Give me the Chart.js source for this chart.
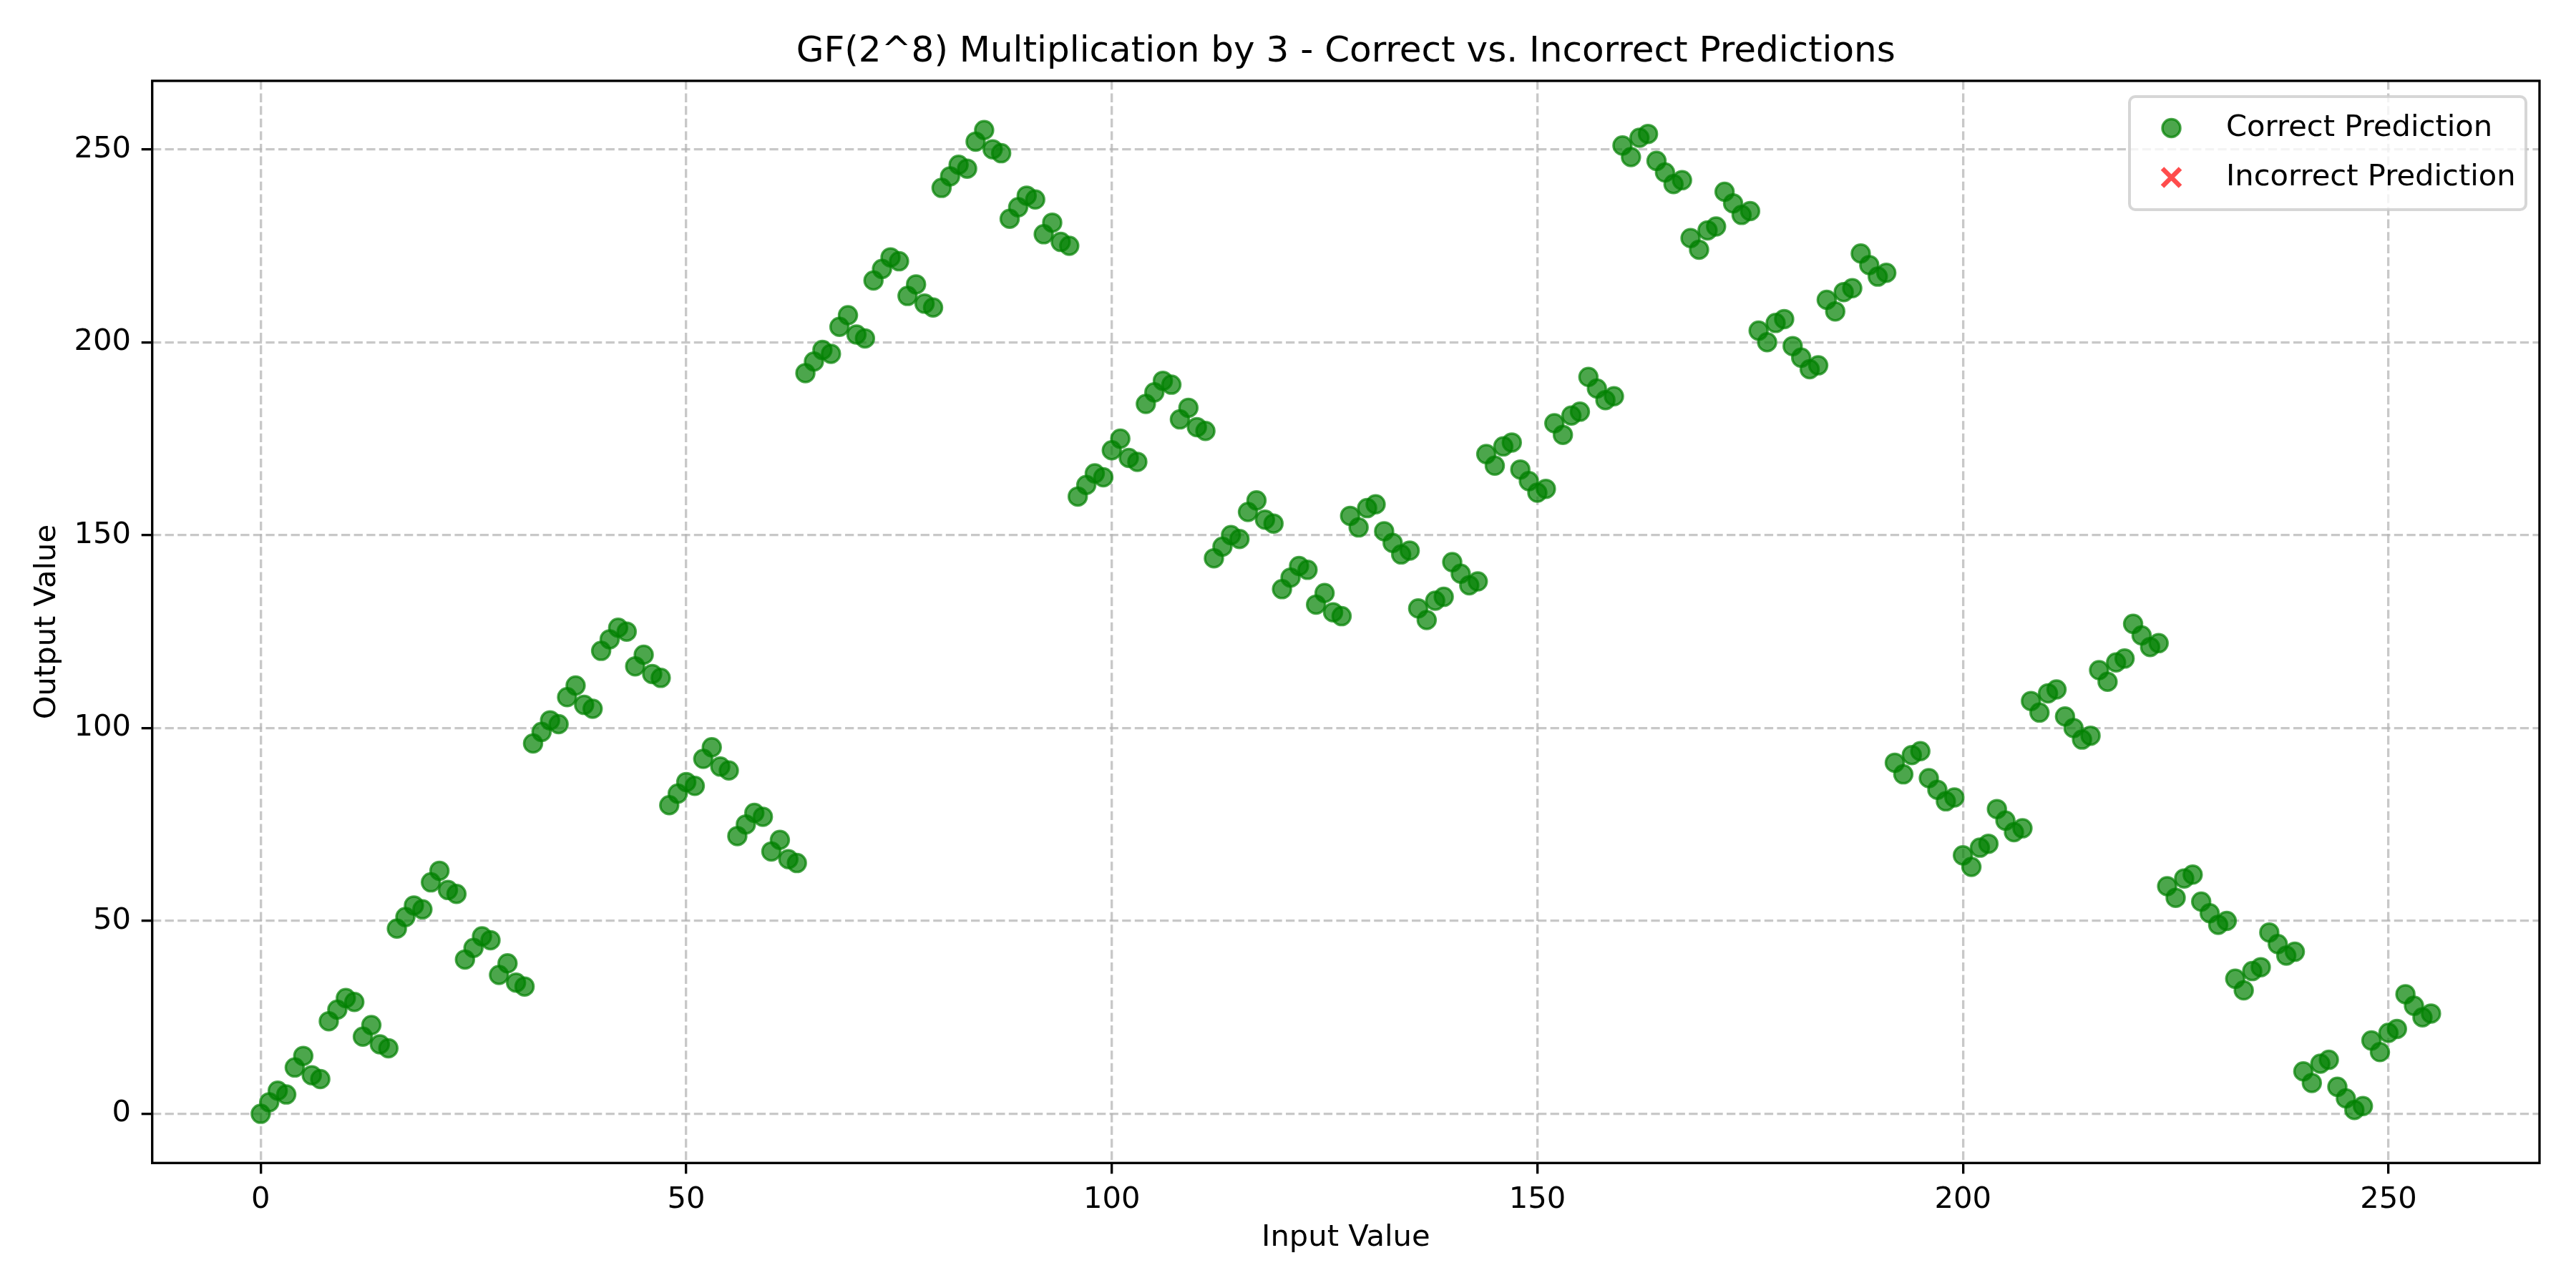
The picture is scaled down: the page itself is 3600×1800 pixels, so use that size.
<!DOCTYPE html>
<html>
<head>
<meta charset="utf-8">
<title>GF(2^8) Multiplication by 3</title>
<script src="https://cdn.jsdelivr.net/npm/chart.js"></script>
<style>
  html, body { margin: 0; padding: 0; background: #fff; }
  #chart { display: block; }
</style>
</head>
<body>
<canvas id="chart" width="3600" height="1800"></canvas>
<script>
// input byte values (x axis)
const inputValues = [
  0, 1, 2, 3, 4, 5, 6, 7, 8, 9, 10, 11, 12, 13, 14, 15,
  16, 17, 18, 19, 20, 21, 22, 23, 24, 25, 26, 27, 28, 29, 30, 31,
  32, 33, 34, 35, 36, 37, 38, 39, 40, 41, 42, 43, 44, 45, 46, 47,
  48, 49, 50, 51, 52, 53, 54, 55, 56, 57, 58, 59, 60, 61, 62, 63,
  64, 65, 66, 67, 68, 69, 70, 71, 72, 73, 74, 75, 76, 77, 78, 79,
  80, 81, 82, 83, 84, 85, 86, 87, 88, 89, 90, 91, 92, 93, 94, 95,
  96, 97, 98, 99, 100, 101, 102, 103, 104, 105, 106, 107, 108, 109, 110, 111,
  112, 113, 114, 115, 116, 117, 118, 119, 120, 121, 122, 123, 124, 125, 126, 127,
  128, 129, 130, 131, 132, 133, 134, 135, 136, 137, 138, 139, 140, 141, 142, 143,
  144, 145, 146, 147, 148, 149, 150, 151, 152, 153, 154, 155, 156, 157, 158, 159,
  160, 161, 162, 163, 164, 165, 166, 167, 168, 169, 170, 171, 172, 173, 174, 175,
  176, 177, 178, 179, 180, 181, 182, 183, 184, 185, 186, 187, 188, 189, 190, 191,
  192, 193, 194, 195, 196, 197, 198, 199, 200, 201, 202, 203, 204, 205, 206, 207,
  208, 209, 210, 211, 212, 213, 214, 215, 216, 217, 218, 219, 220, 221, 222, 223,
  224, 225, 226, 227, 228, 229, 230, 231, 232, 233, 234, 235, 236, 237, 238, 239,
  240, 241, 242, 243, 244, 245, 246, 247, 248, 249, 250, 251, 252, 253, 254, 255
];

// predicted outputs, all of them correct
const outputValues = [
  0, 3, 6, 5, 12, 15, 10, 9, 24, 27, 30, 29, 20, 23, 18, 17,
  48, 51, 54, 53, 60, 63, 58, 57, 40, 43, 46, 45, 36, 39, 34, 33,
  96, 99, 102, 101, 108, 111, 106, 105, 120, 123, 126, 125, 116, 119, 114, 113,
  80, 83, 86, 85, 92, 95, 90, 89, 72, 75, 78, 77, 68, 71, 66, 65,
  192, 195, 198, 197, 204, 207, 202, 201, 216, 219, 222, 221, 212, 215, 210, 209,
  240, 243, 246, 245, 252, 255, 250, 249, 232, 235, 238, 237, 228, 231, 226, 225,
  160, 163, 166, 165, 172, 175, 170, 169, 184, 187, 190, 189, 180, 183, 178, 177,
  144, 147, 150, 149, 156, 159, 154, 153, 136, 139, 142, 141, 132, 135, 130, 129,
  155, 152, 157, 158, 151, 148, 145, 146, 131, 128, 133, 134, 143, 140, 137, 138,
  171, 168, 173, 174, 167, 164, 161, 162, 179, 176, 181, 182, 191, 188, 185, 186,
  251, 248, 253, 254, 247, 244, 241, 242, 227, 224, 229, 230, 239, 236, 233, 234,
  203, 200, 205, 206, 199, 196, 193, 194, 211, 208, 213, 214, 223, 220, 217, 218,
  91, 88, 93, 94, 87, 84, 81, 82, 67, 64, 69, 70, 79, 76, 73, 74,
  107, 104, 109, 110, 103, 100, 97, 98, 115, 112, 117, 118, 127, 124, 121, 122,
  59, 56, 61, 62, 55, 52, 49, 50, 35, 32, 37, 38, 47, 44, 41, 42,
  11, 8, 13, 14, 7, 4, 1, 2, 19, 16, 21, 22, 31, 28, 25, 26
];

// no wrong predictions
const incorrectInputs = [];
const incorrectOutputs = [];

const xTicks = [0, 50, 100, 150, 200, 250];
const yTicks = [0, 50, 100, 150, 200, 250];

const FONT = 'DejaVu Sans';
const FS = 41.67;
const GREEN = 'rgba(0,128,0,0.7)';
const RED = 'rgba(255,0,0,0.7)';

Chart.defaults.font.family = FONT;
Chart.defaults.color = '#000';

// full frame round the plot area (all four spines)
const frame = {
  id: 'frame',
  afterDatasetsDraw(chart) {
    const { ctx, chartArea: a } = chart;
    ctx.save();
    ctx.strokeStyle = '#000';
    ctx.lineWidth = 3.33;
    ctx.strokeRect(a.left, a.top, a.right - a.left, a.bottom - a.top);
    ctx.restore();
  }
};

// matplotlib style legend inside the upper right corner
const boxLegend = {
  id: 'boxLegend',
  afterDraw(chart) {
    const { ctx, chartArea: a } = chart;
    const w = 554, h = 158;
    const x = a.right - 19 - w, y = a.top + 22;
    ctx.save();
    ctx.beginPath();
    ctx.roundRect(x, y, w, h, 8);
    ctx.fillStyle = 'rgba(255,255,255,0.8)';
    ctx.fill();
    ctx.lineWidth = 4;
    ctx.strokeStyle = 'rgba(204,204,204,0.8)';
    ctx.stroke();

    chart.data.datasets.forEach((ds, i) => {
      const cy = y + 44 + i * 69;
      const mx = x + 58.5;
      if (ds.pointStyle === 'circle') {
        ctx.beginPath();
        ctx.arc(mx, cy, 12.5, 0, Math.PI * 2);
        ctx.fillStyle = ds.backgroundColor;
        ctx.fill();
        ctx.lineWidth = 3.5;
        ctx.strokeStyle = ds.borderColor;
        ctx.stroke();
      } else {
        ctx.beginPath();
        ctx.moveTo(mx - 12.5, cy - 12.5);
        ctx.lineTo(mx + 12.5, cy + 12.5);
        ctx.moveTo(mx + 12.5, cy - 12.5);
        ctx.lineTo(mx - 12.5, cy + 12.5);
        ctx.lineWidth = 6.5;
        ctx.strokeStyle = ds.borderColor;
        ctx.stroke();
      }
      ctx.fillStyle = '#000';
      ctx.font = FS + 'px "' + FONT + '"';
      ctx.textAlign = 'left';
      ctx.textBaseline = 'middle';
      ctx.fillText(ds.label, x + 135, cy);
    });
    ctx.restore();
  }
};

const gridStyle = {
  color: 'rgba(176,176,176,0.7)',
  lineWidth: 3.33,
  drawTicks: true,
  tickLength: 15,
  tickColor: '#000',
  tickWidth: 3.33,
  tickBorderDash: []
};

// in v4 the dash of the grid lines lives under border
const borderStyle = { display: false, dash: [12.3, 5.3] };

new Chart(document.getElementById('chart'), {
  type: 'scatter',
  data: {
    datasets: [{
      label: 'Correct Prediction',
      data: inputValues.map((v, i) => ({ x: v, y: outputValues[i] })),
      pointStyle: 'circle',
      pointRadius: 12.5,
      pointBorderWidth: 3.5,
      backgroundColor: GREEN,
      borderColor: GREEN
    }, {
      label: 'Incorrect Prediction',
      data: incorrectInputs.map((v, i) => ({ x: v, y: incorrectOutputs[i] })),
      pointStyle: 'crossRot',
      pointRadius: 12.5,
      pointBorderWidth: 6.5,
      backgroundColor: RED,
      borderColor: RED
    }]
  },
  options: {
    responsive: false,
    devicePixelRatio: 1,
    animation: false,
    layout: { padding: { left: 0, right: 51, top: 0, bottom: 0 } },
    plugins: {
      legend: { display: false },
      tooltip: { enabled: false },
      title: {
        display: true,
        fullSize: false,
        text: 'GF(2^8) Multiplication by 3 - Correct vs. Incorrect Predictions',
        color: '#000',
        font: { family: FONT, size: 50, weight: 'normal' },
        padding: { top: 43, bottom: 10 }
      }
    },
    scales: {
      x: {
        type: 'linear',
        min: -12.75,
        max: 267.75,
        afterBuildTicks: s => { s.ticks = xTicks.map(v => ({ value: v })); },
        afterFit: s => { s.height = 174.7; },
        grid: gridStyle,
        border: borderStyle,
        ticks: { font: { size: FS }, padding: 12, maxRotation: 0 },
        title: {
          display: true,
          text: 'Input Value',
          font: { size: FS },
          padding: { top: 0, bottom: 45 }
        }
      },
      y: {
        type: 'linear',
        min: -12.75,
        max: 267.75,
        afterBuildTicks: s => { s.ticks = yTicks.map(v => ({ value: v })); },
        afterFit: s => { s.width = 212.7; },
        grid: gridStyle,
        border: borderStyle,
        ticks: { font: { size: FS }, padding: 14.6 },
        title: {
          display: true,
          text: 'Output Value',
          font: { size: FS },
          padding: { top: 41, bottom: 0 }
        }
      }
    }
  },
  plugins: [frame, boxLegend]
});
</script>
</body>
</html>
